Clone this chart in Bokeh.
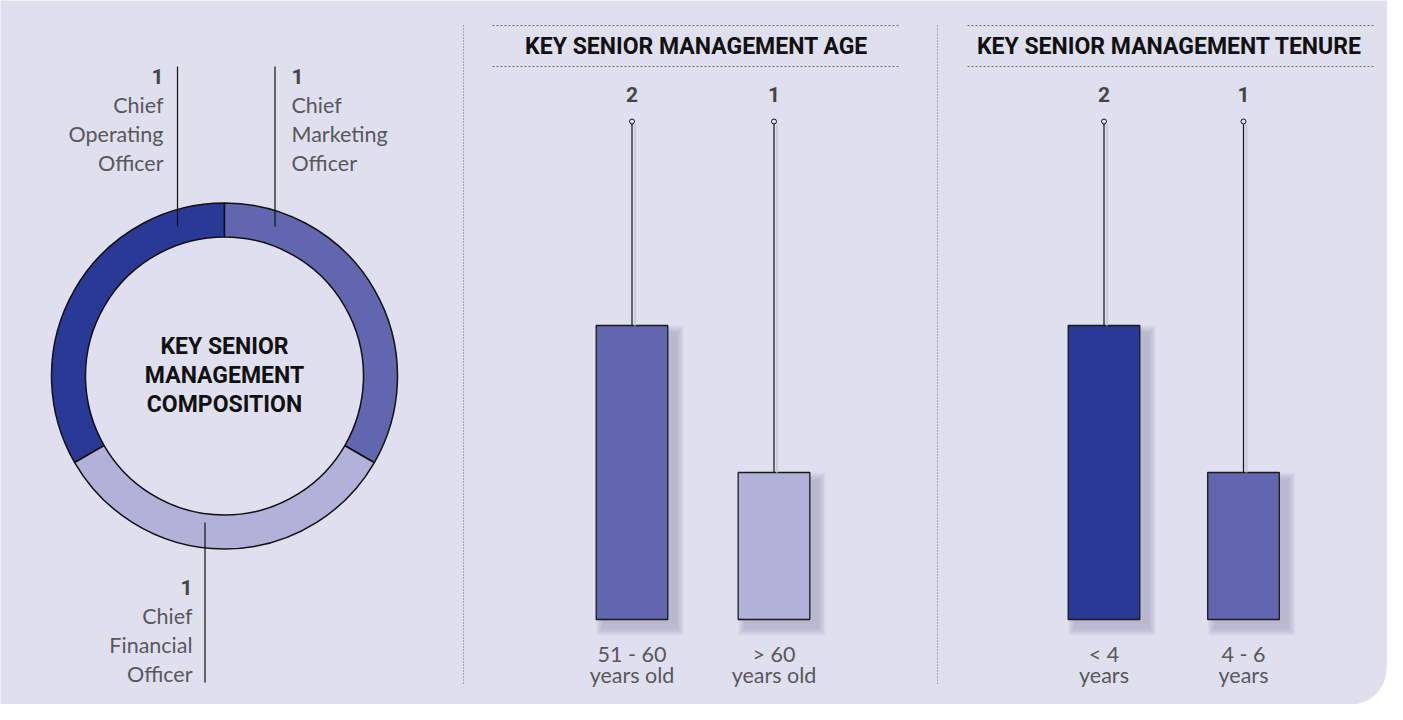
import math
from bokeh.plotting import figure
from bokeh.models import Range1d
from bokeh.core.properties import value
from bokeh.embed import file_html
from bokeh.resources import INLINE

# ---------------- data ----------------
roles = ["Chief\nOperating\nOfficer", "Chief\nFinancial\nOfficer", "Chief\nMarketing\nOfficer"]
role_counts = [1, 1, 1]
composition_title = ["KEY SENIOR", "MANAGEMENT", "COMPOSITION"]

age_title = "KEY SENIOR MANAGEMENT AGE"
age_groups = ["51 - 60\nyears old", "> 60\nyears old"]
age_counts = [2, 1]

tenure_title = "KEY SENIOR MANAGEMENT TENURE"
tenure_groups = ["< 4\nyears", "4 - 6\nyears"]
tenure_counts = [2, 1]

# ---------------- style ----------------
BG = "#dfdfee"
DARK = "#2a3996"
MED = "#6266ae"
LIGHT = "#b1b1d9"
GREY_TXT = "#58585c"
NUM_TXT = "#454545"
LABEL_FONT = value("Lato")
BOLD_FONT = value("Roboto")
TITLE_SIZE = "23px"

W, H = 1387, 704
p = figure(width=W, height=H, x_range=Range1d(0, W), y_range=Range1d(H, 0),
           x_axis_type=None, y_axis_type=None, toolbar_location=None,
           output_backend="svg", min_border=0,
           background_fill_color=BG, border_fill_color=BG, outline_line_color=None)
p.xgrid.visible = False
p.ygrid.visible = False

# count scale for bars: value 0 at y=619, 147 px per unit
base_px, px_per_unit = 619.0, 147.0
p.extra_y_ranges = {"count": Range1d(start=(base_px - H) / px_per_unit,
                                     end=base_px / px_per_unit)}

# ---------------- donut ----------------
cx, cy, r_out, r_in = 224, 375.5, 173, 139
total = sum(role_counts)
starts, ends = [], []
a = 90.0
for v in role_counts:
    starts.append(math.radians(a))
    a += 360.0 * v / total
    ends.append(math.radians(a))
p.annular_wedge(x=[cx] * 3, y=[cy] * 3, inner_radius=r_in, outer_radius=r_out,
                start_angle=starts, end_angle=ends,
                fill_color=[DARK, LIGHT, MED], line_color="#111111", line_width=1.5)

for line in range(3):
    p.text(x=[cx], y=[346 + 29 * line], text=[composition_title[line]],
           text_font=BOLD_FONT, text_font_style="bold", text_font_size=TITLE_SIZE,
           text_color="#111111", text_align="center", text_baseline="middle")

# leader lines + labels (COO, CMO top ; CFO bottom)
leaders = {0: (177, 66, 226, 163, "right", 76),
           2: (274.5, 66, 226, 291, "left", 76),
           1: (204.5, 522, 682, 192, "right", 587)}
for idx, (lx, y0, y1, tx, align, ty) in leaders.items():
    p.line(x=[lx, lx], y=[y0, y1], line_color="#111111", line_width=1.2)
    p.text(x=[tx], y=[ty], text=[str(role_counts[idx])], text_font=BOLD_FONT,
           text_font_style="bold", text_font_size="21px", text_color=NUM_TXT,
           text_align=align, text_baseline="middle")
    for k, part in enumerate(roles[idx].split("\n")):
        p.text(x=[tx], y=[ty + 28 + 29.3 * k], text=[part], text_font=LABEL_FONT,
               text_font_size="21.5px", text_color=GREY_TXT, text_align=align,
               text_baseline="middle")

# ---------------- separators ----------------
for sx in (463, 937):
    p.line(x=[sx, sx], y=[25, 683], line_color="#6a6a6a", line_width=1, line_dash="1 2")


def bar_panel(title, title_cx, x0, x1, centers, groups, counts, colors):
    for yy in (25, 66):
        p.line(x=[x0, x1], y=[yy, yy], line_color="#6a6a6a", line_width=1, line_dash="2 2")
    p.text(x=[title_cx], y=[46], text=[title], text_font=BOLD_FONT, text_font_style="bold",
           text_font_size=TITLE_SIZE, text_color="#111111", text_align="center",
           text_baseline="middle")
    half = 35.8
    for c, g, v, col in zip(centers, groups, counts, colors):
        # soft shadow, down-right
        for k in range(8):
            grow = (8 - k) * 1.0
            p.quad(left=[c - half + 8 - grow], right=[c + half + 8 + grow],
                   top=[v - (8 - grow) / px_per_unit], bottom=[-(8 + grow) / px_per_unit],
                   y_range_name="count", fill_color="#7c7ca6", fill_alpha=0.05,
                   line_color=None)
        p.quad(left=[c - half], right=[c + half], top=[v], bottom=[0], y_range_name="count",
               fill_color=col, line_color="#1a1a1a", line_width=1.3)
        top_px = base_px - v * px_per_unit
        p.line(x=[c + 3, c + 3], y=[124, top_px], line_color="#c9c9dc", line_width=2)
        p.line(x=[c, c], y=[121, top_px], line_color="#111111", line_width=1.2)
        p.scatter(x=[c], y=[121], size=5, marker="circle", fill_color=BG,
                  line_color="#111111", line_width=1)
        p.text(x=[c], y=[94], text=[str(v)], text_font=BOLD_FONT, text_font_style="bold",
               text_font_size="21px", text_color=NUM_TXT, text_align="center",
               text_baseline="middle")
        for k, part in enumerate(g.split("\n")):
            p.text(x=[c], y=[653 + 21 * k], text=[part], text_font=LABEL_FONT,
                   text_font_size="21.5px", text_color=GREY_TXT, text_align="center",
                   text_baseline="middle")


bar_panel(age_title, 696, 492, 900, [631.5, 773.5], age_groups, age_counts, [MED, LIGHT])
bar_panel(tenure_title, 1169, 967, 1374, [1103.5, 1243], tenure_groups, tenure_counts, [DARK, MED])

# ---------------- rounded bottom-right corner ----------------
ccx, ccy, cr = 1350, 668, 36
xs, ys = [], []
for i in range(31):
    t = math.radians(90 * i / 30)
    xs.append(ccx + cr * math.cos(t))
    ys.append(ccy + cr * math.sin(t))
xs += [W + 5, W + 5]
ys += [H + 5, ccy]
p.patch(x=xs, y=ys, fill_color="white", line_color=None)

open("out.html", "w").write(file_html(p, INLINE))
